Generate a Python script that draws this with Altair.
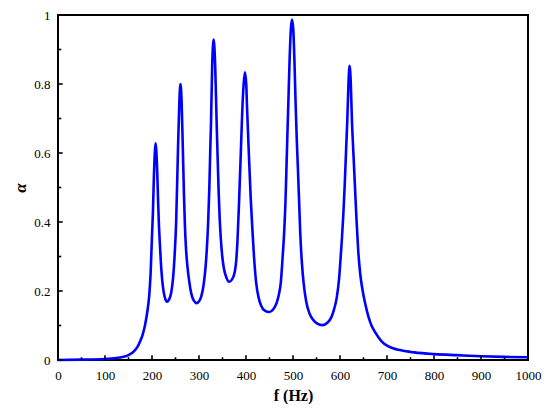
import altair as alt
import pandas as pd

# Absorption curve
freq = [0, 50, 100, 125, 135, 150, 162, 170, 175, 180, 185, 190, 194, 197, 200, 202, 204, 206, 207.5,
        209, 211, 213, 214.5, 217, 220, 223, 227, 232, 236, 241, 245, 248, 251.4, 254.9, 258, 260.5,
        263, 266, 268, 270, 272.5, 275.5, 279, 283, 289, 295, 301, 305, 310, 314, 317, 319.5, 322, 324, 325.5, 328, 331.2,
        334.5, 337.6, 340, 342, 344, 346.5, 349.5, 353, 358, 364, 370, 376, 379, 382, 385, 388.7, 392, 395, 397.7,
        400.5, 402, 406, 410, 413.5, 417, 421.6, 427, 432, 440, 450,
        458, 465, 470, 474, 478, 481, 484, 486, 488, 490, 493, 495.5, 497.9,
        500.5, 503, 505.6, 508, 510.5, 513, 515.5, 519, 522.5, 528, 535, 542, 551, 563,
        573, 582, 587, 593, 598, 601, 604, 607, 610, 613, 615.5, 618, 620.4,
        623, 625.4, 628.5, 631.7, 635, 638.7, 643, 649, 655, 660, 667, 674, 688, 702,
        730, 758, 801, 849, 900, 950, 1000]
alpha = [0.000, 0.001, 0.003, 0.006, 0.008, 0.014, 0.026, 0.040, 0.055, 0.073, 0.100, 0.140, 0.185, 0.250, 0.360, 0.430, 0.530, 0.600, 0.628,
         0.610, 0.550, 0.460, 0.400, 0.330, 0.260, 0.215, 0.183, 0.169, 0.174, 0.196, 0.240, 0.300, 0.400, 0.590, 0.740, 0.800,
         0.750, 0.590, 0.480, 0.390, 0.320, 0.270, 0.230, 0.196, 0.172, 0.165, 0.172, 0.185, 0.220, 0.270, 0.330, 0.400, 0.500, 0.610, 0.684, 0.850, 0.929,
         0.850, 0.684, 0.570, 0.480, 0.410, 0.350, 0.300, 0.265, 0.240, 0.227, 0.233, 0.255, 0.285, 0.350, 0.450, 0.590, 0.720, 0.800, 0.834,
         0.800, 0.740, 0.600, 0.470, 0.380, 0.300, 0.224, 0.180, 0.158, 0.143, 0.139,
         0.147, 0.165, 0.190, 0.224, 0.300, 0.365, 0.460, 0.553, 0.650, 0.741, 0.880, 0.960, 0.987,
         0.960, 0.870, 0.741, 0.640, 0.553, 0.460, 0.365, 0.280, 0.224, 0.170, 0.135, 0.118, 0.106, 0.101,
         0.108, 0.125, 0.145, 0.180, 0.235, 0.290, 0.350, 0.420, 0.506, 0.610, 0.694, 0.800, 0.853,
         0.800, 0.694, 0.600, 0.506, 0.410, 0.318, 0.250, 0.195, 0.155, 0.128, 0.100, 0.082, 0.055, 0.040,
         0.028, 0.022, 0.017, 0.014, 0.011, 0.009, 0.008]

x_major = [0, 100, 200, 300, 400, 500, 600, 700, 800, 900, 1000]
x_minor = [50, 150, 250, 350, 450, 550, 650, 750, 850, 950]
y_major = [0, 0.2, 0.4, 0.6, 0.8, 1.0]
y_minor = [0.1, 0.3, 0.5, 0.7, 0.9]

df = pd.DataFrame({"f": freq, "a": alpha})

FONT = "Liberation Serif"
xscale = alt.Scale(domain=[0, 1000], nice=False, zero=False)
yscale = alt.Scale(domain=[0, 1], nice=False)

xaxis = alt.Axis(values=x_major, format="d", title="f (Hz)", grid=False, domain=False,
                 ticks=False, tickSize=0, labelPadding=9, labelFont=FONT, labelFontSize=13,
                 labelColor="black", titleFont=FONT, titleFontSize=16, titleFontWeight="bold",
                 titleColor="black", titlePadding=5, labelFlush=False)
yaxis = alt.Axis(values=y_major, format="~g", title="α", grid=False, domain=False,
                 ticks=False, tickSize=0, labelPadding=8, labelFont=FONT, labelFontSize=13,
                 labelColor="black", titleFont=FONT, titleFontSize=17, titleFontWeight="bold",
                 titleFontStyle="italic", titleColor="black", titlePadding=4, labelFlush=False)

line = alt.Chart(df).mark_line(color="#0000FF", strokeWidth=2.6, interpolate="monotone").encode(
    x=alt.X("f:Q", scale=xscale, axis=xaxis),
    y=alt.Y("a:Q", scale=yscale, axis=yaxis),
)

xt = pd.DataFrame({"x": x_major + x_minor,
                   "y0": [0.0] * (len(x_major) + len(x_minor)),
                   "y1": [0.014] * len(x_major) + [0.008] * len(x_minor)})
yt = pd.DataFrame({"y": y_major + y_minor,
                   "x0": [0.0] * (len(y_major) + len(y_minor)),
                   "x1": [10.0] * len(y_major) + [7.0] * len(y_minor)})

xticks = alt.Chart(xt).mark_rule(color="black", strokeWidth=1.6).encode(
    x=alt.X("x:Q", scale=xscale, axis=xaxis),
    y=alt.Y("y0:Q", scale=yscale, axis=yaxis),
    y2="y1:Q",
)
yticks = alt.Chart(yt).mark_rule(color="black", strokeWidth=1.6).encode(
    y=alt.Y("y:Q", scale=yscale, axis=yaxis),
    x=alt.X("x0:Q", scale=xscale, axis=xaxis),
    x2="x1:Q",
)

chart = alt.layer(line, xticks, yticks).properties(
    width=470, height=345,
    background="white",
    autosize=alt.AutoSizeParams(type="none"),
    padding={"left": 50, "top": 7, "right": 14, "bottom": 44},
).configure_view(stroke="black", strokeWidth=2)

chart.save("out.html", embed_options={"renderer": "svg", "actions": False})
